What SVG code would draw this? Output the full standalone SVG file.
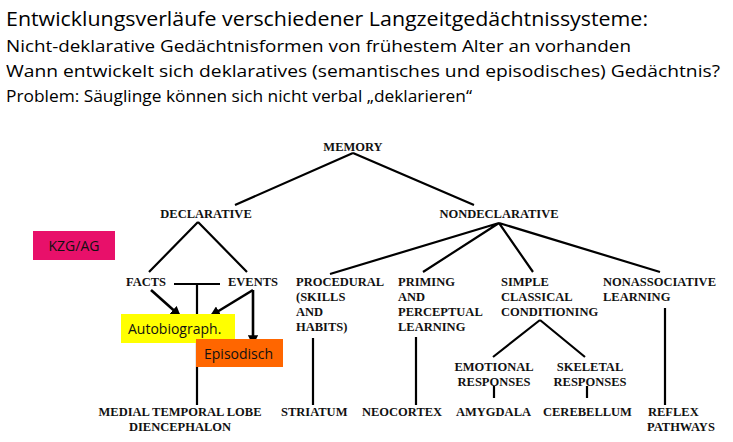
<svg xmlns="http://www.w3.org/2000/svg" width="733" height="442" viewBox="0 0 733 442">
<style>
.h{font-family:"Open Sans","Liberation Sans",sans-serif;fill:#000}
.t{font-family:"Liberation Serif",serif;font-weight:bold;font-size:12.5px;fill:#111}
.l{stroke:#000;stroke-width:2.2;fill:none}
.a{stroke:#000;stroke-width:2.6;fill:none;marker-end:url(#ar)}
.b{font-family:"Open Sans","Liberation Sans",sans-serif;font-size:14px;fill:#111}
</style>
<defs><marker id="ar" markerWidth="4" markerHeight="4" refX="3" refY="2" orient="auto"><path d="M0,0L4,2L0,4z" fill="#000"/></marker></defs>
<rect width="733" height="442" fill="#fff"/>
<g id="header">
<text class="h" x="6" y="26" font-size="20" textLength="642" lengthAdjust="spacingAndGlyphs">Entwicklungsverläufe verschiedener Langzeitgedächtnissysteme:</text>
<text class="h" x="6" y="52" font-size="17" textLength="625" lengthAdjust="spacingAndGlyphs">Nicht-deklarative Gedächtnisformen von frühestem Alter an vorhanden</text>
<text class="h" x="6" y="77" font-size="17" textLength="714" lengthAdjust="spacingAndGlyphs">Wann entwickelt sich deklaratives (semantisches und episodisches) Gedächtnis?</text>
<text class="h" x="6" y="102" font-size="17" textLength="466" lengthAdjust="spacingAndGlyphs">Problem: Säuglinge können sich nicht verbal „deklarieren“</text>
</g>
<g id="connectors">
<path class="l" d="M353,153L235,205M353,153L474,205"/>
<path class="l" d="M198,222L149,272M198,222L247,272"/>
<path class="l" d="M174,284H220M197,284V405"/>
<path class="l" d="M499,223L330,274M499,223L423,272M499,223L533,272M499,223L660,272"/>
<path class="l" d="M313,338V405M416,337V405M665,308V405"/>
<path class="l" d="M540,320L493,357M540,320L585,357M494,386V398M587,386V398"/>
<path class="a" d="M151,290L179,315"/>
<path class="a" d="M253,290L212,315"/>
<path class="a" d="M253,290V343"/>
</g>
<g id="memory"><text class="t" x="353" y="151" text-anchor="middle">MEMORY</text></g>
<g id="declarative"><text class="t" x="206" y="218" text-anchor="middle">DECLARATIVE</text></g>
<g id="nondeclarative"><text class="t" x="499" y="218" text-anchor="middle">NONDECLARATIVE</text></g>
<g id="kzg"><rect x="33" y="231" width="82" height="29" fill="#e8106a"/><text class="b" x="74" y="251" text-anchor="middle" fill="#300">KZG/AG</text></g>
<g id="facts"><text class="t" x="126" y="286">FACTS</text></g>
<g id="events"><text class="t" x="228" y="286">EVENTS</text></g>
<g id="autobio"><rect x="121" y="314" width="114" height="29" fill="#ffff00"/><text class="b" x="128" y="334">Autobiograph.</text></g>
<g id="episodisch"><rect x="196" y="339" width="87" height="28" fill="#ff6600"/><text class="b" x="204" y="359">Episodisch</text></g>
<g id="procedural"><text class="t" x="296" y="286">PROCEDURAL<tspan x="296" dy="15">(SKILLS</tspan><tspan x="296" dy="15">AND</tspan><tspan x="296" dy="15">HABITS)</tspan></text></g>
<g id="priming"><text class="t" x="398" y="286">PRIMING<tspan x="398" dy="15">AND</tspan><tspan x="398" dy="15">PERCEPTUAL</tspan><tspan x="398" dy="15">LEARNING</tspan></text></g>
<g id="simple"><text class="t" x="501" y="286">SIMPLE<tspan x="501" dy="15">CLASSICAL</tspan><tspan x="501" dy="15">CONDITIONING</tspan></text></g>
<g id="nonassoc"><text class="t" x="603" y="286">NONASSOCIATIVE<tspan x="603" dy="15">LEARNING</tspan></text></g>
<g id="emotional"><text class="t" x="494" y="371" text-anchor="middle">EMOTIONAL<tspan x="494" dy="15">RESPONSES</tspan></text></g>
<g id="skeletal"><text class="t" x="590" y="371" text-anchor="middle">SKELETAL<tspan x="590" dy="15">RESPONSES</tspan></text></g>
<g id="mtl"><text class="t" x="180" y="416" text-anchor="middle">MEDIAL TEMPORAL LOBE<tspan x="180" dy="15">DIENCEPHALON</tspan></text></g>
<g id="striatum"><text class="t" x="281" y="416">STRIATUM</text></g>
<g id="neocortex"><text class="t" x="362" y="416">NEOCORTEX</text></g>
<g id="amygdala"><text class="t" x="456" y="416">AMYGDALA</text></g>
<g id="cerebellum"><text class="t" x="543" y="416">CEREBELLUM</text></g>
<g id="reflex"><text class="t" x="648" y="416">REFLEX<tspan x="647" dy="15">PATHWAYS</tspan></text></g>
</svg>
